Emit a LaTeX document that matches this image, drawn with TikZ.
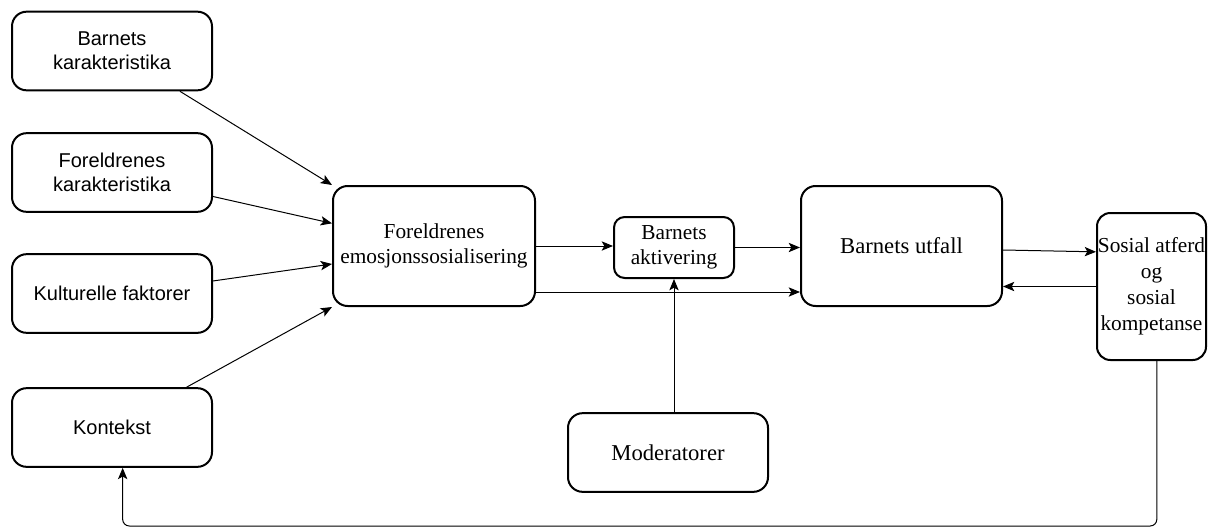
\documentclass[tikz,border=0pt]{standalone}
\usepackage{fontspec}
\setmainfont{Liberation Serif}
\newfontfamily\arialfont{Liberation Sans}
\usepackage{tikz}
\usetikzlibrary{arrows.meta,positioning,calc}

\begin{document}
\begin{tikzpicture}[
    x=0.75pt, y=-0.75pt,
    box/.style={draw, line width=1.5pt, rounded corners=11pt, align=center, inner sep=0pt},
    sbox/.style={box, minimum width=150pt, minimum height=59pt, font=\arialfont\fontsize{15}{18}\selectfont},
    arrow/.style={-{Stealth[length=8.5pt, width=7pt, inset=2pt]}, line width=0.75pt}
]
\useasboundingbox (0,0) rectangle (1208,532);

% left column
\node[sbox] (bk) at (112,51) {Barnets\\karakteristika};
\node[sbox] (fk) at (112,172.5) {Foreldrenes\\karakteristika};
\node[sbox] (kf) at (112,293.5) {Kulturelle faktorer};
\node[sbox] (kon) at (112,427.5) {Kontekst};

% middle and right
\node[box, minimum width=151.5pt, minimum height=90pt, font=\fontsize{16}{19}\selectfont] (emo) at (434,246) {Foreldrenes\\emosjonssosialisering};
\node[box, rounded corners=8pt, minimum width=90pt, minimum height=45.75pt, font=\fontsize{16}{19}\selectfont] (akt) at (674,247.5) {Barnets\\aktivering};
\node[box, minimum width=150.75pt, minimum height=90pt, font=\fontsize{17}{20}\selectfont] (utf) at (901.5,246) {Barnets utfall};
\node[box, minimum width=150pt, minimum height=59pt, font=\fontsize{17}{20}\selectfont] (mod) at (668,452.5) {Moderatorer};
\node[box, rounded corners=10pt, minimum width=81.75pt, minimum height=110.25pt, font=\fontsize{16}{19.5}\selectfont] (sos) at (1151.5,286.5) {Sosial atferd\\og\\sosial\\kompetanse};

\draw[arrow] ([xshift=51pt]bk.south) -- (emo.north west);
\draw[arrow] ([yshift=-18pt]fk.east) -- ([yshift=17pt]emo.west);
\draw[arrow] ([yshift=9.4pt]kf.east) -- ([yshift=-13.5pt]emo.west);
\draw[arrow] ([xshift=56pt]kon.north) -- (emo.south west);
\draw[arrow] (emo.east) -- (emo.east -| akt.west);
\draw[arrow] ([yshift=-34.5pt]emo.east) -- ([yshift=-34.5pt]emo.east -| utf.west);
\draw[arrow] (akt.east) -- (akt.east -| utf.west);
\draw[arrow] (mod.north -| akt.south) -- (akt.south);
\draw[arrow] ([yshift=-3pt]utf.east) -- ([yshift=26pt]sos.west);
\draw[arrow] (sos.west) -- (sos.west -| utf.east);
\draw[arrow, rounded corners=5pt] ([xshift=4pt]sos.south) -- ++(0,165) -| ([xshift=8pt]kon.south);
\end{tikzpicture}
\end{document}
